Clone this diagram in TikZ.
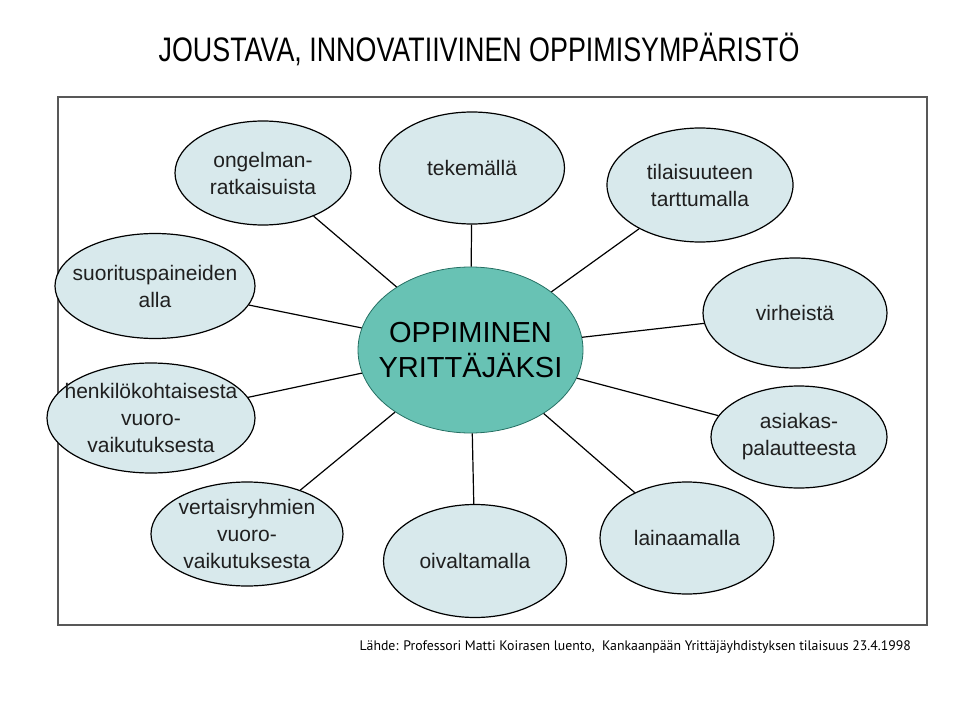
\documentclass[tikz,border=0pt]{standalone}
\usepackage{fontspec}
\setmainfont{Liberation Sans}
\newfontfamily\srcfont{PT Sans}
\usepackage{graphicx}
\usepackage{tikz}
\usetikzlibrary{shapes}

\definecolor{bubble}{RGB}{216,233,236}
\definecolor{core}{RGB}{104,194,180}
\definecolor{coreline}{RGB}{38,112,100}
\definecolor{frame}{RGB}{88,88,88}

\begin{document}
\begin{tikzpicture}[x=1pt,y=-1pt]
  \tikzstyle{main node}=[draw,ellipse,fill=bubble,line width=1.2pt,inner sep=0pt]
  \tikzstyle{word}=[font=\fontsize{21}{27}\selectfont,align=center,text=black!88]
  \useasboundingbox (0,0) rectangle (960,722);

  \node[font=\fontsize{34}{38}\selectfont] (TI) at (479,49)
    {\scalebox{0.79}[1]{JOUSTAVA, INNOVATIIVINEN OPPIMISYMPÄRISTÖ}};
  \draw[frame,line width=2pt] (58,97) rectangle (927,625);

  \node[main node,fill=core,draw=coreline,line width=0.8pt,
        minimum width=225pt,minimum height=166pt,
        label={[font=\fontsize{29}{35}\selectfont,align=center]center:OPPIMINEN\\YRITTÄJÄKSI}] (OY) at (470.5,350) {};

  \node[main node,minimum width=176pt,minimum height=104pt,label={[word]center:ongelman-\\ratkaisuista}] (OR) at (263,173) {};
  \node[main node,minimum width=185pt,minimum height=112pt,label={[word]center:tekemällä}] (TE) at (472,168) {};
  \node[main node,minimum width=186pt,minimum height=114pt,label={[word]center:tilaisuuteen\\tarttumalla}] (TT) at (700,185) {};
  \node[main node,minimum width=200pt,minimum height=105pt,label={[word]center:suorituspaineiden\\alla}] (SA) at (155,286) {};
  \node[main node,minimum width=208pt,minimum height=110pt,label={[word]center:henkilökohtaisesta\\vuoro-\\vaikutuksesta}] (HV) at (151,418) {};
  \node[main node,minimum width=184pt,minimum height=110pt,label={[word]center:virheistä}] (VI) at (795,313) {};
  \node[main node,minimum width=176pt,minimum height=102pt,label={[word]center:asiakas-\\palautteesta}] (AP) at (799,437) {};
  \node[main node,minimum width=192pt,minimum height=104pt,label={[word]center:vertaisryhmien\\vuoro-\\vaikutuksesta}] (VV) at (247,534) {};
  \node[main node,minimum width=183pt,minimum height=113pt,label={[word]center:oivaltamalla}] (OI) at (475,561) {};
  \node[main node,minimum width=174pt,minimum height=112pt,label={[word]center:lainaamalla}] (LA) at (687,538) {};

  \draw[line width=1.2pt]
    (OY) -- (OR)
    (OY) -- (TE)
    (OY) -- (TT)
    (OY) -- (SA)
    (OY) -- (HV)
    (OY) -- (VI)
    (OY) -- (AP)
    (OY) -- (VV)
    (OY) -- (OI)
    (OY) -- (LA);

  \node[font=\srcfont\fontsize{13.8}{16}\selectfont,anchor=west] (SRC) at (356,647)
    {Lähde: Professori Matti Koirasen luento,~ Kankaanpään Yrittäjäyhdistyksen tilaisuus 23.4.1998};
\end{tikzpicture}
\end{document}
